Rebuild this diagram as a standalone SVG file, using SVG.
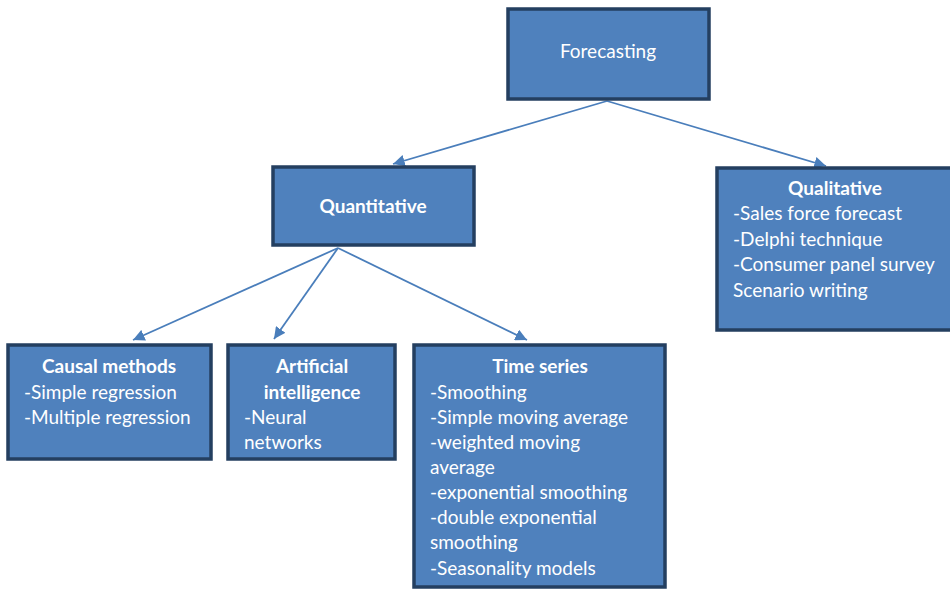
<svg xmlns="http://www.w3.org/2000/svg" width="950" height="590" viewBox="0 0 950 590">
<style>
.box{fill:#4F81BD;stroke:#243F60;stroke-width:3.5}
.t{font-family:Lato,"Liberation Sans",sans-serif;font-size:19px;fill:#FFFFFF}
.b{font-weight:bold}
.c{text-anchor:middle}
.edge{stroke:#4A7EBB;stroke-width:1.8;fill:none;marker-end:url(#ah)}
</style>
<defs>
<marker id="ah" viewBox="0 0 10 10" refX="10" refY="5" markerWidth="6.5" markerHeight="6.5" markerUnits="strokeWidth" orient="auto">
<path d="M0,0 L10,5 L0,10 z" fill="#4A7EBB"/>
</marker>
</defs>
<rect width="950" height="590" fill="#FFFFFF"/>
<g id="connectors">
<line class="edge" x1="607" y1="101" x2="393" y2="164"/>
<line class="edge" x1="607" y1="101" x2="826" y2="166"/>
<line class="edge" x1="338" y1="248" x2="133" y2="340"/>
<line class="edge" x1="338" y1="248" x2="274" y2="339"/>
<line class="edge" x1="338" y1="248" x2="527" y2="340"/>
</g>
<g id="forecasting">
<rect class="box" x="508" y="9" width="201" height="90"/>
<text class="t c" x="608" y="58">Forecasting</text>
</g>
<g id="quantitative">
<rect class="box" x="273" y="167" width="201" height="78"/>
<text class="t b c" x="373" y="213">Quantitative</text>
</g>
<g id="qualitative">
<rect class="box" x="717" y="168" width="240" height="162"/>
<text class="t b c" x="835" y="195">Qualitative</text>
<text class="t" x="733" y="220">-Sales force forecast</text>
<text class="t" x="733" y="246">-Delphi technique</text>
<text class="t" x="733" y="271">-Consumer panel survey</text>
<text class="t" x="733" y="297">Scenario writing</text>
</g>
<g id="causal">
<rect class="box" x="8" y="345" width="203" height="114"/>
<text class="t b c" x="109" y="373">Causal methods</text>
<text class="t" x="24" y="399">-Simple regression</text>
<text class="t" x="24" y="424">-Multiple regression</text>
</g>
<g id="ai">
<rect class="box" x="228" y="345" width="167" height="114"/>
<text class="t b c" x="312" y="373">Artificial</text>
<text class="t b c" x="312" y="399">intelligence</text>
<text class="t" x="244" y="424">-Neural</text>
<text class="t" x="244" y="449">networks</text>
</g>
<g id="timeseries">
<rect class="box" x="414" y="345" width="251" height="242"/>
<text class="t b c" x="540" y="373">Time series</text>
<text class="t" x="430" y="399">-Smoothing</text>
<text class="t" x="430" y="424">-Simple moving average</text>
<text class="t" x="430" y="449">-weighted moving</text>
<text class="t" x="430" y="474">average</text>
<text class="t" x="430" y="499">-exponential smoothing</text>
<text class="t" x="430" y="524">-double exponential</text>
<text class="t" x="430" y="549">smoothing</text>
<text class="t" x="430" y="575">-Seasonality models</text>
</g>
</svg>
